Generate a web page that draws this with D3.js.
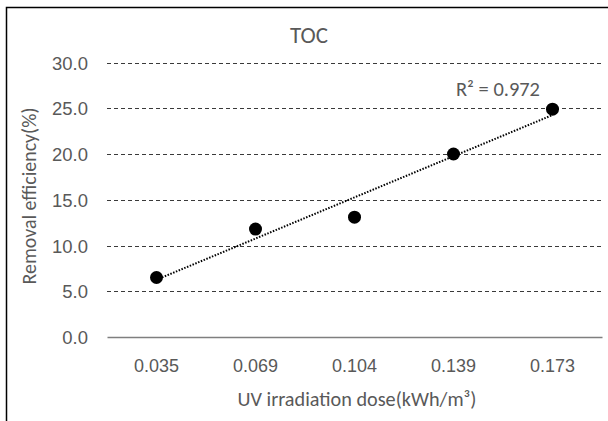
<!DOCTYPE html>
<html>
<head>
<meta charset="utf-8">
<script src="https://cdn.jsdelivr.net/npm/d3@7"></script>
<style>
  html, body { margin: 0; padding: 0; background: #fff; }
  svg { display: block; font-family: Calibri, Carlito, Lato, sans-serif; }
</style>
</head>
<body>
<div id="chart"></div>
<script>
// chart data
const doses = ['0.035', '0.069', '0.104', '0.139', '0.173'];
const removal = [6.5, 11.8, 13.1, 20.0, 24.9];
const yTicks = [0, 5, 10, 15, 20, 25, 30];
const chartTitle = 'TOC';
const r2Label = 'R\u00B2 = 0.972';

const W = 608, H = 421;
const plot = { left: 107, right: 602, top: 62.5, bottom: 337 };
const textColor = '#595959';

const svg = d3.select('#chart').append('svg').attr('width', W).attr('height', H);

// scale a text's font size so its width matches what the picture shows
function fitWidth(sel, target) {
    sel.style('font-size', '18px');
    const w = sel.node().getComputedTextLength();
    const size = 18 * target / w;
    sel.style('font-size', size + 'px');
    return size;
}

// outer chart border (cropped at right and bottom)
svg.append('rect')
    .attr('x', 6.5).attr('y', 7.5)
    .attr('width', W + 10).attr('height', H + 10)
    .attr('fill', 'white').attr('stroke', '#000').attr('stroke-width', 1.5);

const x = d3.scaleBand().domain(doses).range([plot.left, plot.right]);
const y = d3.scaleLinear().domain([0, 30]).range([plot.bottom, plot.top]);

// dashed gridlines
svg.append('g').selectAll('line')
    .data(yTicks.filter(d => d > 0))
    .join('line')
    .attr('x1', plot.left).attr('x2', plot.right)
    .attr('y1', d => Math.round(y(d)) + 0.5).attr('y2', d => Math.round(y(d)) + 0.5)
    .attr('stroke', '#3a3a3a').attr('stroke-width', 1)
    .attr('stroke-dasharray', '4,3');

// y axis labels
const yAxis = svg.append('g')
    .attr('transform', `translate(${plot.left},0)`)
    .call(d3.axisLeft(y).tickValues(yTicks).tickFormat(d3.format('.1f')).tickSize(0).tickPadding(19));
yAxis.select('.domain').remove();
yAxis.selectAll('text').attr('fill', textColor).attr('dy', '0.36em');
const tickSize = fitWidth(yAxis.selectAll('text').filter(d => d === 30), 36);
yAxis.selectAll('text').style('font-size', tickSize + 'px');

// x axis
const xAxis = svg.append('g')
    .attr('transform', `translate(0,${plot.bottom})`)
    .call(d3.axisBottom(x).tickSize(0).tickPadding(20));
xAxis.select('.domain').attr('stroke', '#7f7f7f').attr('stroke-width', 1.5);
xAxis.selectAll('text').attr('fill', textColor).attr('dy', 0).attr('y', 35);
const xSize = fitWidth(xAxis.selectAll('text').filter(d => d === '0.035'), 45);
xAxis.selectAll('text').style('font-size', xSize + 'px');

// linear trendline
const xi = removal.map((d, i) => i + 1);
const mx = d3.mean(xi), my = d3.mean(removal);
const slope = d3.sum(xi, (v, i) => (v - mx) * (removal[i] - my)) / d3.sum(xi, v => (v - mx) ** 2);
const icpt = my - slope * mx;
svg.append('line')
    .attr('x1', x(doses[0]) + x.bandwidth() / 2)
    .attr('y1', y(icpt + slope * 1))
    .attr('x2', x(doses[doses.length - 1]) + x.bandwidth() / 2)
    .attr('y2', y(icpt + slope * doses.length))
    .attr('stroke', '#000').attr('stroke-width', 2)
    .attr('stroke-dasharray', '1.5,1.5');

// points
svg.append('g').selectAll('circle')
    .data(removal)
    .join('circle')
    .attr('cx', (d, i) => x(doses[i]) + x.bandwidth() / 2)
    .attr('cy', d => y(d))
    .attr('r', 6.5)
    .attr('fill', '#000');

// titles
const title = svg.append('text')
    .attr('x', 309).attr('y', 43)
    .attr('text-anchor', 'middle')
    .attr('fill', textColor)
    .text(chartTitle);
fitWidth(title, 38);

const r2 = svg.append('text')
    .attr('x', 498).attr('y', 96)
    .attr('text-anchor', 'middle')
    .attr('fill', textColor)
    .text(r2Label);
fitWidth(r2, 84);

const xTitle = svg.append('text')
    .attr('x', 357).attr('y', 406)
    .attr('text-anchor', 'middle')
    .attr('fill', textColor)
    .text('UV irradiation dose(kWh/m\u00B3)');
fitWidth(xTitle, 239);

const yTitle = svg.append('text')
    .attr('transform', 'translate(36,196) rotate(-90)')
    .attr('text-anchor', 'middle')
    .attr('fill', textColor)
    .text('Removal efficiency(%)');
fitWidth(yTitle, 177);
</script>
</body>
</html>
